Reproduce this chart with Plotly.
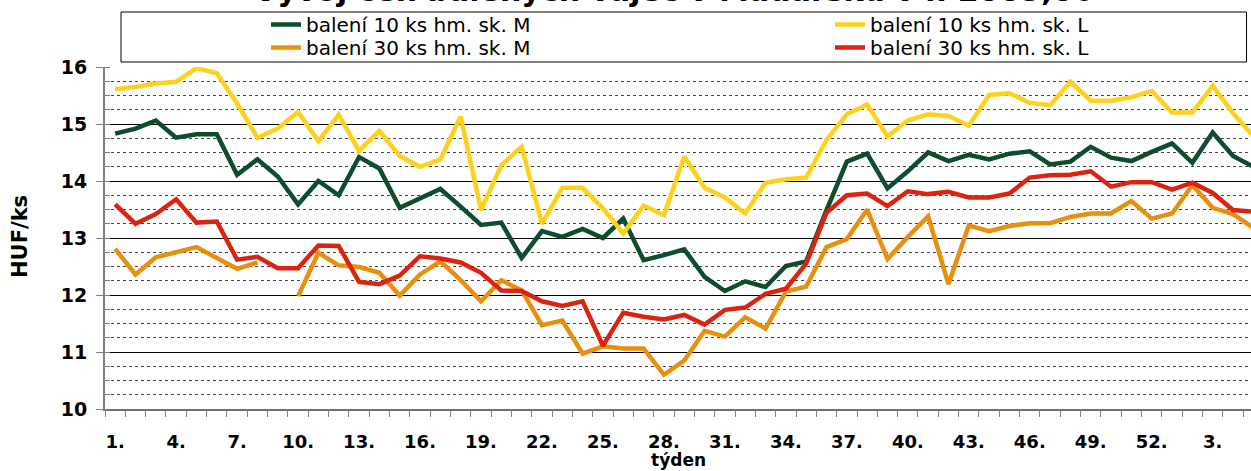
import plotly.graph_objects as go

# ---- data ----
weeks = list(range(1, 58))  # 52 weeks of 2005 + 5 weeks of 2006
tick_positions = [1, 4, 7, 10, 13, 16, 19, 22, 25, 28, 31, 34, 37, 40, 43, 46, 49, 52, 55]
tick_labels = ["1.", "4.", "7.", "10.", "13.", "16.", "19.", "22.", "25.", "28.",
               "31.", "34.", "37.", "40.", "43.", "46.", "49.", "52.", "3."]

m10 = [14.83, 14.92, 15.06, 14.76, 14.82, 14.82, 14.11, 14.38, 14.08, 13.59,
       14.00, 13.75, 14.42, 14.22, 13.53, 13.70, 13.86, 13.55, 13.23, 13.27,
       12.65, 13.12, 13.02, 13.16, 13.00, 13.34, 12.61, 12.70, 12.80, 12.32,
       12.07, 12.24, 12.14, 12.51, 12.59, 13.49, 14.34, 14.48, 13.87, 14.17,
       14.50, 14.35, 14.46, 14.38, 14.48, 14.52, 14.29, 14.34, 14.60, 14.41,
       14.35, 14.51, 14.66, 14.32, 14.85, 14.44, 14.25]
l10 = [15.61, 15.65, 15.71, 15.74, 15.98, 15.89, 15.36, 14.76, 14.92, 15.21,
       14.70, 15.16, 14.53, 14.88, 14.44, 14.25, 14.38, 15.13, 13.49, 14.28,
       14.60, 13.25, 13.88, 13.88, 13.52, 13.08, 13.57, 13.40, 14.43, 13.88,
       13.71, 13.43, 13.97, 14.03, 14.06, 14.72, 15.17, 15.34, 14.78, 15.06,
       15.17, 15.14, 14.97, 15.51, 15.54, 15.37, 15.33, 15.74, 15.41, 15.41,
       15.47, 15.58, 15.20, 15.20, 15.67, 15.19, 14.79]
m30 = [12.81, 12.36, 12.66, 12.75, 12.84, 12.65, 12.46, 12.57, None, 11.98,
       12.74, 12.52, 12.49, 12.39, 11.99, 12.36, 12.59, 12.26, 11.89, 12.26,
       12.08, 11.47, 11.55, 10.97, 11.10, 11.06, 11.06, 10.60, 10.85, 11.37,
       11.27, 11.61, 11.41, 12.06, 12.15, 12.84, 12.98, 13.50, 12.63, 13.02,
       13.38, 12.19, 13.22, 13.12, 13.21, 13.26, 13.26, 13.37, 13.43, 13.43,
       13.65, 13.34, 13.43, 13.93, 13.53, 13.42, 13.18]
l30 = [13.59, 13.25, 13.42, 13.68, 13.27, 13.29, 12.62, 12.67, 12.47, 12.47,
       12.87, 12.86, 12.23, 12.19, 12.34, 12.68, 12.64, 12.57, 12.39, 12.08,
       12.07, 11.89, 11.81, 11.89, 11.11, 11.69, 11.62, 11.57, 11.65, 11.48,
       11.74, 11.78, 12.02, 12.11, 12.55, 13.44, 13.75, 13.78, 13.56, 13.82,
       13.77, 13.81, 13.71, 13.71, 13.78, 14.06, 14.10, 14.11, 14.17, 13.90,
       13.98, 13.98, 13.85, 13.97, 13.79, 13.49, 13.46]

series_names = ["balení 10 ks hm. sk. M", "balení 10 ks hm. sk. L",
                "balení 30 ks hm. sk. M", "balení 30 ks hm. sk. L"]
series_values = [m10, l10, m30, l30]
series_colors = ["#0B4D2C", "#FFD11A", "#E8900C", "#DC2310"]
series_legend = ["legend", "legend2", "legend3", "legend4"]

title_text = "Vývoj cen balených vajec v Maďarsku v r. 2005,06"

# ---- layout geometry ----
W, H = 1251, 471
L, R, T, B = 105, 0, 67, 62
PW, PH = W - L - R, H - T - B


def px(x):
    return (x - L) / PW


def py(y):
    return (H - B - y) / PH


FONT = "DejaVu Sans"

fig = go.Figure()
for name, vals, col, lg in zip(series_names, series_values, series_colors, series_legend):
    fig.add_trace(go.Scatter(x=weeks, y=vals, mode="lines", name=name,
                             line=dict(color=col, width=4.5),
                             connectgaps=False, legend=lg))

legend_common = dict(orientation="v", yanchor="top", xanchor="left",
                     font=dict(family=FONT, size=20, color="black"),
                     bgcolor="rgba(0,0,0,0)", borderwidth=0)

fig.update_layout(
    width=W, height=H,
    margin=dict(l=L, r=R, t=T, b=B, autoexpand=False),
    paper_bgcolor="white", plot_bgcolor="white",
    font=dict(family=FONT, color="black"),
    showlegend=True,
    legend=dict(x=px(266), y=py(5), **legend_common),
    legend2=dict(x=px(830), y=py(5), **legend_common),
    legend3=dict(x=px(266), y=py(28), **legend_common),
    legend4=dict(x=px(830), y=py(28), **legend_common),
    xaxis=dict(range=[0.5, 0.5 + (W - 104.7) / 20.33], tickmode="array",
               tickvals=tick_positions, ticktext=tick_labels,
               ticks="", showgrid=False, zeroline=False, automargin=False,
               showline=True, linecolor="#707070", linewidth=1.5,
               tickfont=dict(family=FONT, size=18, color="black", weight="bold"),
               ticklabelstandoff=16,
               minor=dict(tickmode="linear", tick0=0.5, dtick=1, ticks="outside",
                          ticklen=6, tickcolor="#808080", tickwidth=1, showgrid=False)),
    yaxis=dict(range=[10, 16], tickmode="linear", tick0=10, dtick=1,
               ticks="outside", ticklen=7, tickcolor="#808080", tickwidth=1,
               showgrid=True, gridcolor="black", gridwidth=1, zeroline=False,
               automargin=False,
               showline=True, linecolor="#808080", linewidth=2,
               tickfont=dict(family=FONT, size=19, color="black", weight="bold"),
               ticklabelstandoff=5,
               minor=dict(tickmode="linear", tick0=10, dtick=0.25, ticks="inside",
                          ticklen=5, tickcolor="#808080", showgrid=True,
                          gridcolor="#444444", gridwidth=1, griddash="3px,3px")),
    shapes=[dict(type="rect", xref="paper", yref="paper",
                 x0=px(121), x1=px(1246.5), y0=py(62), y1=py(12),
                 line=dict(color="black", width=1), fillcolor="rgba(0,0,0,0)",
                 layer="above")],
    annotations=[
        dict(text=title_text, xref="paper", yref="paper", x=px(674), y=py(-9),
             xanchor="center", yanchor="middle", showarrow=False,
             font=dict(family=FONT, size=30, color="black", weight="bold")),
        dict(text="HUF/ks", xref="paper", yref="paper", x=px(20), y=py(237),
             xanchor="center", yanchor="middle", textangle=-90, showarrow=False,
             font=dict(family=FONT, size=21, color="black", weight="bold")),
        dict(text="týden", xref="paper", yref="paper", x=px(678), y=py(460),
             xanchor="center", yanchor="middle", showarrow=False,
             font=dict(family=FONT, size=17, color="black", weight="bold")),
    ],
)

# remove the default 8px page margin so the figure fills the window exactly
fig.write_html("out.html",
               config={"displayModeBar": False, "staticPlot": True},
               post_script="document.body.style.margin='0';document.body.style.overflow='hidden';")
